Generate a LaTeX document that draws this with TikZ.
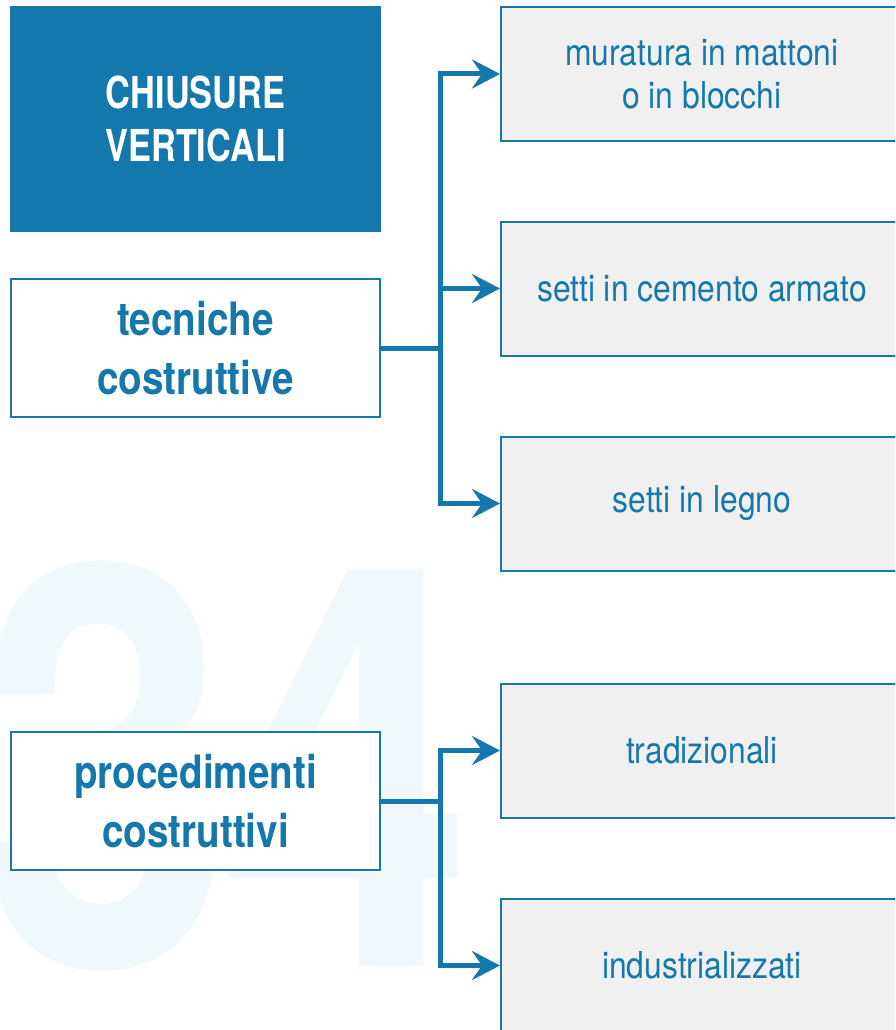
\documentclass[tikz,border=0pt]{standalone}
\usepackage{fontspec}
\setmainfont{TeX Gyre Heros}
\newfontfamily\regfont[FakeStretch=0.86]{TeX Gyre Heros}
\newfontfamily\boldfont[FakeStretch=0.84]{TeX Gyre Heros}
\newfontfamily\titlefont[FakeStretch=0.78]{TeX Gyre Heros}
\usetikzlibrary{arrows.meta}
\definecolor{cblue}{HTML}{1478AC}
\definecolor{cgray}{HTML}{F0F0F0}
\definecolor{cwm}{HTML}{F2F9FD}
\begin{document}
\begin{tikzpicture}[x=1pt,y=-1pt,
 titlebox/.style={fill=cblue, minimum width=371pt, minimum height=226pt, inner sep=0pt, text=white, font=\titlefont\bfseries\fontsize{44}{53}\selectfont, align=center},
 mainbox/.style={draw=cblue, line width=2pt, fill=white, minimum width=369pt, minimum height=138pt, inner sep=0pt, text=cblue, font=\boldfont\bfseries\fontsize{46}{59}\selectfont, align=center},
 subbox/.style={draw=cblue, line width=2pt, fill=cgray, minimum width=402pt, minimum height=134pt, inner sep=0pt, text=cblue, font=\regfont\fontsize{37}{43}\selectfont, align=center},
 conn/.style={draw=cblue, line width=5pt},
 arr/.style={conn, -{Stealth[length=28pt,width=29pt,inset=10pt]}},
 wm/.style={text=cwm, font=\boldfont\bfseries\fontsize{560}{560}\selectfont, inner sep=0pt, anchor=base}
]
\clip (0,0) rectangle (895,1030);
\fill[white] (0,0) rectangle (895,1030);
% watermark
\node[wm] (wm3) at (106,966) {\scalebox{0.98}[1]{3}};
\node[wm] (wm4) at (346,966) {\scalebox{0.98}[1]{4}};
% left column
\node[titlebox] (title) at (195.5,119) {CHIUSURE\\VERTICALI};
\node[mainbox] (tec) at (195.5,348) {tecniche\\costruttive};
\node[mainbox] (proc) at (195.5,801) {procedimenti\\costruttivi};
% right column
\node[subbox] (b1) at (702,74) {muratura in mattoni\\o in blocchi};
\node[subbox] (b2) at (702,288.5) {setti in cemento armato};
\node[subbox] (b3) at (702,503.5) {setti in legno};
\node[subbox] (b4) at (702,750.5) {tradizionali};
\node[subbox] (b5) at (702,965.5) {industrializzati};
% connectors
\coordinate (j1) at (440,348);
\coordinate (j2) at (440,801);
\draw[conn] (tec.east) -- (j1);
\draw[arr] (j1) |- (b1.west);
\draw[arr] (j1) |- (b3.west);
\draw[arr] (j1 |- b2.west) -- (b2.west);
\draw[conn] (proc.east) -- (j2);
\draw[arr] (j2) |- (b4.west);
\draw[arr] (j2) |- (b5.west);
\end{tikzpicture}
\end{document}
